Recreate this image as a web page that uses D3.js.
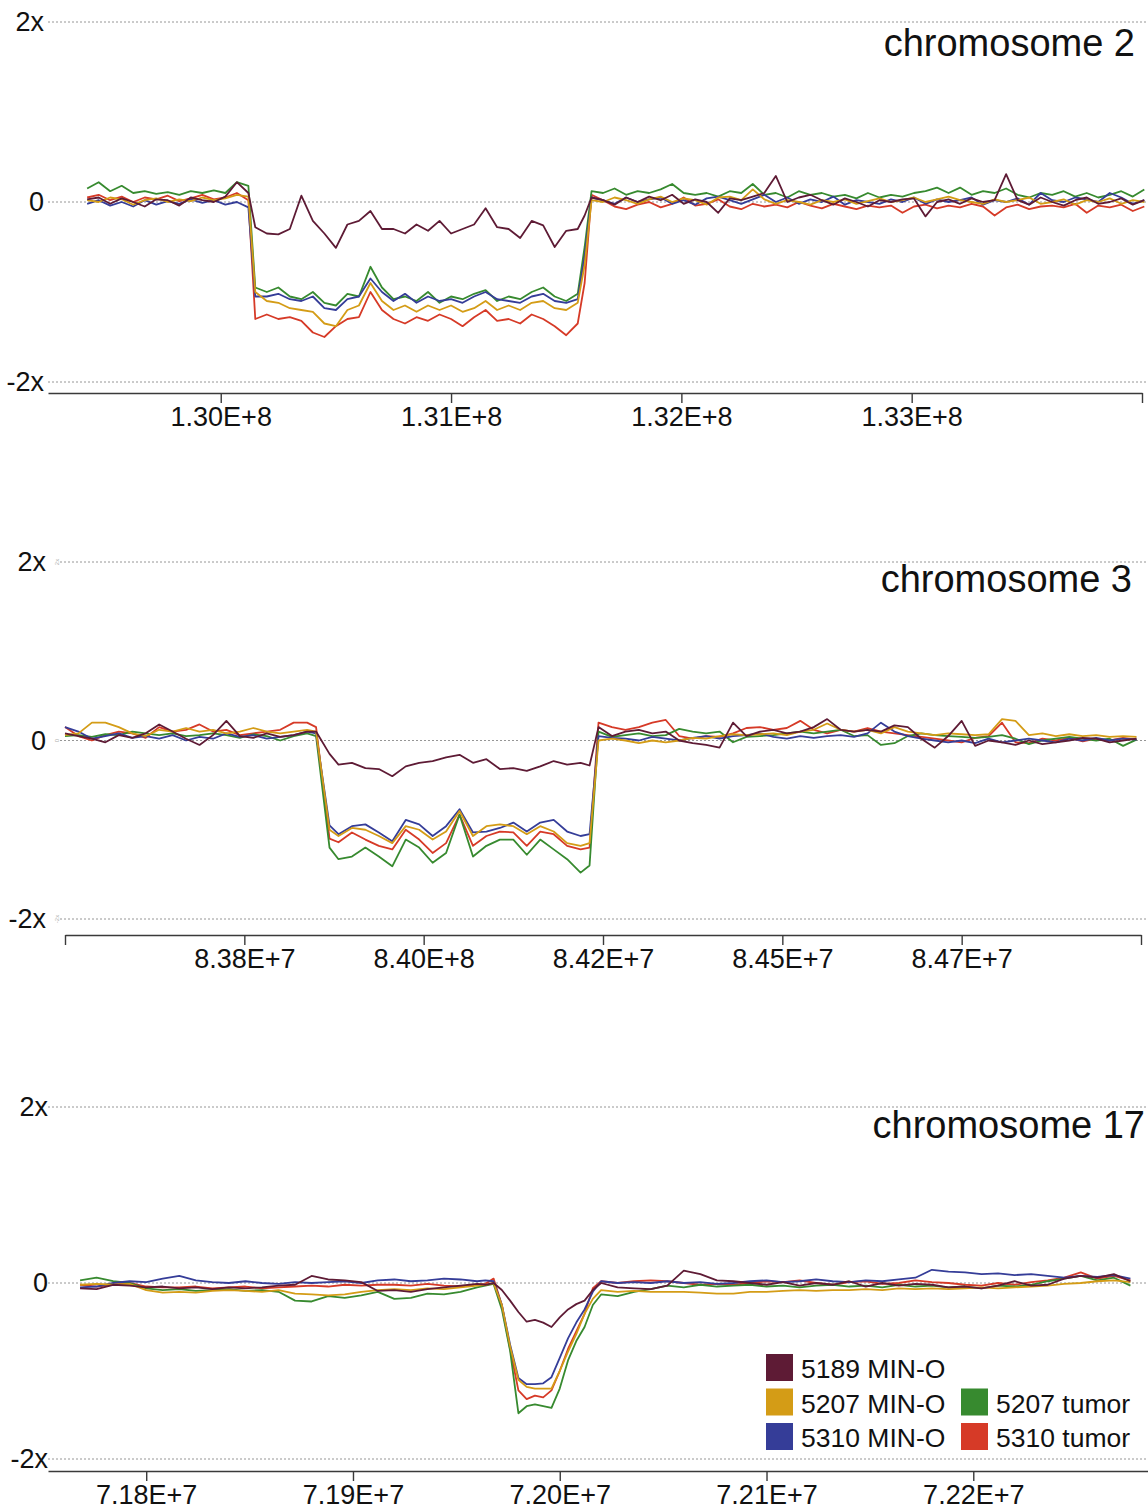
<!DOCTYPE html>
<html lang="en">
<head>
<meta charset="UTF-8">
<title>Copy number, chromosomes 2, 3 and 17</title>
<script src="https://d3js.org/d3.v7.min.js"></script>
<style>
    body {
        margin: 0;
        background: white;
    }
    svg {
        display: block;
        font-family: 'Liberation Sans', Arial, sans-serif;
    }
</style>
</head>
<body>
<svg width="1148" height="1509"></svg>
<script>
// samples
const sampleNames = ["5189 MIN-O", "5207 MIN-O", "5310 MIN-O", "5207 tumor", "5310 tumor"];
const sampleColors = ["#5e1b35", "#d49c16", "#353d98", "#378a2f", "#d63a27"];

// y axis (same for every panel)
const yTickValues = [2, 0, -2];
const yTickLabels = ["2x", "0", "-2x"];

// ---- chromosome 2 (positions in Mb) ----
const chr2Ticks = [130, 131, 132, 133, 134];
const chr2TickLabels = ["1.30E+8", "1.31E+8", "1.32E+8", "1.33E+8", ""];
const chr2Pos = [129.42, 129.47, 129.52, 129.57, 129.62, 129.67, 129.72, 129.77, 129.82, 129.87, 129.92, 129.97, 130.02, 130.07, 130.12,
    130.15,
    130.20, 130.25, 130.30, 130.35, 130.40, 130.45, 130.50, 130.55, 130.60, 130.65, 130.70, 130.75, 130.80, 130.85,
    130.90, 130.95, 131.00, 131.05, 131.10, 131.15, 131.20, 131.25, 131.30, 131.35, 131.40, 131.45, 131.50, 131.55,
    131.58, 131.61,
    131.66, 131.71, 131.76, 131.81, 131.86, 131.91, 131.96, 132.01, 132.06, 132.11, 132.16, 132.21, 132.26, 132.31, 132.36, 132.41,
    132.46, 132.51, 132.56, 132.61, 132.66, 132.71, 132.76, 132.81, 132.86, 132.91, 132.96, 133.01, 133.06, 133.11, 133.16, 133.21,
    133.26, 133.31, 133.36, 133.41, 133.46, 133.51, 133.56, 133.61, 133.66, 133.71, 133.76, 133.81, 133.86, 133.91, 133.96, 134.01];
const chr2_5189MinO = [0.03, 0.05, -0.02, 0.04, 0.00, -0.05, 0.03, 0.02, -0.04, 0.05, 0.02, 0.00, 0.06, 0.22, 0.10,
    -0.28,
    -0.35, -0.36, -0.30, 0.07, -0.21, -0.35, -0.51, -0.25, -0.21, -0.10, -0.30, -0.30, -0.35, -0.25,
    -0.32, -0.21, -0.35, -0.30, -0.25, -0.07, -0.28, -0.30, -0.40, -0.21, -0.26, -0.50, -0.32, -0.30,
    -0.15, 0.05,
    0.02, -0.03, 0.05, 0.00, 0.06, 0.02, 0.08, -0.02, 0.03, 0.00, -0.12, 0.04, 0.02, 0.06, 0.10, 0.29,
    0.00, 0.05, 0.08, 0.02, -0.03, 0.04, 0.00, -0.05, 0.02, 0.00, 0.03, 0.04, -0.16, 0.00, 0.03, -0.02,
    0.04, 0.00, 0.02, 0.31, 0.02, -0.03, 0.05, 0.00, -0.04, 0.02, 0.05, -0.02, 0.00, 0.04, -0.03, 0.02];
const chr2_5207MinO = [0.02, 0.00, 0.05, 0.03, -0.03, 0.02, 0.04, 0.00, 0.03, 0.01, 0.05, 0.02, 0.04, 0.08, 0.06,
    -1.00,
    -1.10, -1.12, -1.18, -1.20, -1.22, -1.35, -1.38, -1.20, -1.15, -0.90, -1.10, -1.20, -1.15, -1.22,
    -1.15, -1.20, -1.15, -1.22, -1.18, -1.10, -1.20, -1.15, -1.20, -1.12, -1.10, -1.18, -1.20, -1.12,
    -0.70, 0.02,
    0.00, 0.05, 0.02, -0.02, 0.03, 0.06, 0.00, 0.04, 0.02, -0.03, 0.05, 0.06, 0.02, 0.14, 0.03, -0.02,
    0.02, 0.00, -0.03, 0.02, 0.00, 0.03, -0.02, 0.01, 0.04, 0.00, 0.02, 0.05, 0.00, 0.03, 0.06, 0.02,
    0.00, -0.02, 0.03, 0.00, 0.02, 0.05, -0.02, 0.00, 0.03, -0.03, 0.02, 0.00, 0.04, -0.02, 0.02, 0.00];
const chr2_5310MinO = [-0.02, 0.02, -0.04, 0.00, -0.05, 0.02, -0.03, 0.01, -0.02, 0.03, -0.01, 0.02, -0.03, 0.00, -0.06,
    -1.05,
    -1.05, -1.02, -1.08, -1.10, -1.05, -1.18, -1.20, -1.08, -1.05, -0.85, -1.00, -1.10, -1.02, -1.12,
    -1.05, -1.10, -1.08, -1.12, -1.05, -1.00, -1.08, -1.10, -1.12, -1.05, -1.02, -1.10, -1.12, -1.08,
    -0.60, 0.05,
    0.02, -0.02, 0.05, 0.00, 0.03, 0.05, -0.02, 0.02, -0.03, 0.04, 0.06, 0.02, -0.02, 0.03, 0.08, 0.00,
    0.05, -0.02, 0.03, 0.00, 0.06, -0.03, 0.02, 0.00, -0.02, 0.03, 0.00, 0.05, -0.02, 0.03, 0.00, 0.02,
    0.05, -0.03, 0.02, 0.00, 0.04, -0.03, 0.10, 0.02, 0.00, 0.05, 0.03, 0.00, 0.10, 0.05, -0.02, 0.02];
const chr2_5207Tumor = [0.15, 0.22, 0.12, 0.18, 0.10, 0.12, 0.09, 0.11, 0.08, 0.12, 0.10, 0.13, 0.10, 0.22, 0.18,
    -0.95,
    -1.00, -0.95, -1.05, -1.08, -1.00, -1.12, -1.15, -1.02, -1.05, -0.72, -0.95, -1.08, -1.05, -1.10,
    -1.00, -1.12, -1.05, -1.08, -1.02, -0.98, -1.10, -1.05, -1.08, -1.00, -0.95, -1.05, -1.10, -1.02,
    -0.50, 0.12,
    0.10, 0.15, 0.08, 0.12, 0.10, 0.14, 0.20, 0.10, 0.08, 0.10, 0.06, 0.12, 0.10, 0.20, 0.08, 0.10,
    0.05, 0.12, 0.08, 0.10, 0.06, 0.08, 0.04, 0.10, 0.05, 0.08, 0.06, 0.10, 0.12, 0.16, 0.10, 0.16,
    0.08, 0.12, 0.10, 0.15, 0.08, 0.05, 0.10, 0.08, 0.12, 0.06, 0.10, 0.05, 0.08, 0.12, 0.06, 0.14];
const chr2_5310Tumor = [0.05, 0.08, 0.02, 0.06, 0.00, 0.05, 0.03, 0.07, 0.01, 0.04, 0.08, 0.03, 0.05, 0.10, 0.02,
    -1.30,
    -1.25, -1.30, -1.28, -1.32, -1.45, -1.50, -1.38, -1.30, -1.28, -1.00, -1.20, -1.30, -1.35, -1.28,
    -1.32, -1.25, -1.30, -1.38, -1.28, -1.20, -1.32, -1.30, -1.35, -1.25, -1.30, -1.38, -1.48, -1.35,
    -0.90, 0.08,
    0.02, -0.05, -0.08, -0.03, 0.00, -0.06, -0.02, 0.05, -0.04, -0.02, 0.03, -0.05, -0.08, -0.02, -0.05, -0.03,
    -0.06, 0.00, -0.04, -0.07, -0.02, -0.05, -0.08, -0.04, -0.06, -0.04, -0.12, -0.05, -0.03, -0.07, -0.04, -0.06,
    -0.02, -0.05, -0.15, -0.06, -0.03, -0.08, -0.05, -0.04, -0.06, -0.02, -0.12, -0.04, -0.06, -0.03, -0.10, -0.05];

// ---- chromosome 3 (positions in Mb) ----
const chr3Ticks = [83.6, 83.8, 84.0, 84.2, 84.4, 84.6, 84.8];
const chr3TickLabels = ["", "8.38E+7", "8.40E+8", "8.42E+7", "8.45E+7", "8.47E+7", ""];
const chr3Pos = [83.600, 83.615, 83.630, 83.645, 83.660, 83.675, 83.690, 83.705, 83.720, 83.735, 83.750, 83.765, 83.780, 83.795, 83.810, 83.825, 83.840, 83.855, 83.870,
    83.880, 83.895,
    83.905, 83.920, 83.935, 83.950, 83.965, 83.980, 83.995, 84.010, 84.025, 84.040, 84.055, 84.070, 84.085, 84.100, 84.115, 84.130, 84.145, 84.160, 84.175,
    84.185, 84.195,
    84.210, 84.225, 84.240, 84.255, 84.270, 84.285, 84.300, 84.315, 84.330, 84.345, 84.360, 84.375, 84.390, 84.405, 84.420, 84.435, 84.450, 84.465, 84.480, 84.495,
    84.510, 84.525, 84.540, 84.555, 84.570, 84.585, 84.600, 84.615, 84.630, 84.645, 84.660, 84.675, 84.690, 84.705, 84.720, 84.735, 84.750, 84.765, 84.780, 84.795];
const chr3_5189MinO = [0.08, 0.05, 0.02, -0.02, 0.06, 0.03, 0.08, 0.18, 0.10, 0.02, -0.05, 0.06, 0.22, 0.05, 0.03, 0.08, 0.04, 0.06, 0.10,
    0.10, -0.15,
    -0.27, -0.25, -0.31, -0.32, -0.40, -0.29, -0.25, -0.23, -0.19, -0.16, -0.25, -0.21, -0.32, -0.31, -0.34, -0.29, -0.23, -0.27, -0.25,
    -0.28, 0.15,
    0.05, 0.10, 0.12, 0.08, 0.10, 0.00, -0.03, -0.05, -0.08, 0.20, 0.05, 0.10, 0.12, 0.08, 0.10, 0.15, 0.24, 0.12, 0.10, 0.12,
    0.10, 0.17, 0.15, 0.02, -0.08, 0.05, 0.22, -0.06, 0.00, -0.02, -0.05, 0.00, -0.04, -0.02, 0.00, 0.03, 0.02, -0.02, 0.00, 0.02];
const chr3_5207MinO = [0.06, 0.08, 0.20, 0.20, 0.15, 0.08, 0.05, 0.12, 0.10, 0.14, 0.10, 0.12, 0.08, 0.10, 0.14, 0.10, 0.08, 0.10, 0.12,
    0.10, -1.00,
    -1.07, -0.98, -1.00, -1.07, -1.15, -0.96, -1.00, -1.11, -1.02, -0.79, -1.07, -0.96, -0.94, -0.96, -1.05, -0.96, -1.02, -1.15, -1.18,
    -1.15, 0.00,
    0.02, 0.00, -0.03, 0.00, -0.02, 0.00, 0.03, 0.02, 0.05, 0.07, 0.06, 0.07, 0.08, 0.06, 0.10, 0.12, 0.19, 0.12, 0.10, 0.12,
    0.08, 0.15, 0.10, 0.08, 0.06, 0.08, 0.07, 0.06, 0.07, 0.24, 0.22, 0.06, 0.08, 0.05, 0.07, 0.05, 0.06, 0.04, 0.05, 0.04];
const chr3_5310MinO = [0.15, 0.10, 0.02, 0.05, 0.08, 0.03, 0.05, 0.02, 0.06, 0.00, 0.04, 0.02, 0.08, 0.04, 0.06, 0.02, 0.04, 0.06, 0.10,
    0.08, -0.95,
    -1.05, -0.96, -0.94, -1.03, -1.13, -0.89, -0.94, -1.07, -0.96, -0.77, -1.03, -1.02, -0.98, -0.92, -1.02, -0.92, -0.89, -1.02, -1.07,
    -1.05, 0.05,
    0.03, 0.02, 0.00, 0.04, 0.02, 0.00, 0.03, 0.05, 0.02, 0.05, 0.06, 0.08, 0.04, 0.02, 0.05, 0.03, 0.05, 0.06, 0.04, 0.08,
    0.20, 0.10, 0.05, 0.02, 0.00, -0.02, 0.00, -0.03, 0.02, -0.02, 0.00, 0.02, 0.00, -0.02, 0.02, 0.00, 0.03, 0.00, 0.02, 0.01];
const chr3_5207Tumor = [0.05, 0.06, 0.04, 0.07, 0.06, 0.10, 0.08, 0.06, 0.08, 0.05, 0.06, 0.08, 0.06, 0.03, 0.07, 0.05, 0.00, 0.05, 0.08,
    0.05, -1.20,
    -1.33, -1.30, -1.20, -1.30, -1.41, -1.11, -1.20, -1.37, -1.26, -0.83, -1.30, -1.18, -1.11, -1.11, -1.28, -1.11, -1.22, -1.33, -1.48,
    -1.40, 0.10,
    0.04, 0.06, 0.08, 0.05, 0.06, 0.13, 0.10, 0.08, 0.10, -0.02, 0.04, 0.05, 0.06, 0.08, 0.10, 0.08, 0.10, 0.12, 0.05, 0.06,
    -0.05, -0.03, 0.05, 0.08, 0.06, 0.05, 0.04, 0.03, 0.04, 0.06, 0.02, -0.04, 0.00, 0.02, 0.04, 0.02, 0.00, 0.02, -0.06, 0.01];
const chr3_5310Tumor = [0.15, 0.05, 0.00, 0.06, 0.10, 0.08, 0.03, 0.15, 0.10, 0.12, 0.18, 0.10, 0.12, 0.06, 0.08, 0.10, 0.12, 0.20, 0.20,
    0.15, -1.10,
    -1.14, -1.03, -1.11, -1.18, -1.22, -1.00, -1.11, -1.26, -1.15, -0.83, -1.18, -1.07, -1.02, -1.03, -1.18, -1.02, -1.05, -1.18, -1.22,
    -1.20, 0.20,
    0.15, 0.12, 0.15, 0.20, 0.23, 0.05, 0.02, 0.05, 0.04, 0.08, 0.14, 0.15, 0.12, 0.14, 0.22, 0.12, 0.08, 0.12, 0.10, 0.14,
    0.10, 0.08, 0.06, 0.04, 0.02, 0.00, -0.02, 0.03, 0.05, 0.20, -0.02, -0.03, 0.02, 0.00, 0.03, -0.01, 0.02, 0.00, 0.03, 0.01];

// ---- chromosome 17 (positions in Mb) ----
const chr17Ticks = [71.8, 71.9, 72.0, 72.1, 72.2];
const chr17TickLabels = ["7.18E+7", "7.19E+7", "7.20E+7", "7.21E+7", "7.22E+7"];
const chr17Pos = [71.768, 71.776, 71.784, 71.792, 71.800, 71.808, 71.816, 71.824, 71.832, 71.840, 71.848, 71.856, 71.864,
    71.872, 71.880, 71.888, 71.896, 71.904, 71.912, 71.920, 71.928, 71.936, 71.944, 71.952, 71.960,
    71.964, 71.968, 71.972, 71.976, 71.980, 71.984, 71.988, 71.992, 71.996, 72.000, 72.004, 72.008, 72.012, 72.016, 72.020,
    72.028, 72.036, 72.044, 72.052, 72.060, 72.068, 72.076, 72.084, 72.092, 72.100, 72.108, 72.116, 72.124, 72.132, 72.140, 72.148,
    72.156, 72.164, 72.172, 72.180, 72.188, 72.196, 72.204, 72.212, 72.220, 72.228, 72.236, 72.244, 72.252, 72.260, 72.268, 72.276];
const chr17_5189MinO = [-0.06, -0.07, -0.02, -0.03, -0.05, -0.04, -0.06, -0.05, -0.07, -0.05, -0.06, -0.05, -0.03,
    -0.02, 0.08, 0.04, 0.03, 0.01, -0.09, -0.08, -0.10, -0.07, -0.05, -0.03, -0.01,
    -0.02, 0.00, -0.08, -0.20, -0.33, -0.44, -0.42, -0.45, -0.50, -0.39, -0.30, -0.24, -0.20, -0.08, 0.00,
    -0.05, -0.06, -0.07, -0.03, 0.14, 0.10, 0.03, 0.02, 0.00, -0.02, 0.01, -0.03, 0.00, -0.02, 0.02, -0.04,
    0.00, -0.03, -0.01, -0.02, -0.05, -0.04, -0.06, -0.03, 0.02, -0.03, -0.02, 0.05, 0.08, 0.06, 0.10, 0.02];
const chr17_5207MinO = [-0.02, -0.01, -0.02, -0.01, -0.08, -0.11, -0.10, -0.11, -0.09, -0.08, -0.09, -0.10, -0.08,
    -0.12, -0.13, -0.14, -0.13, -0.10, -0.08, -0.07, -0.08, -0.06, -0.07, -0.05, -0.03,
    -0.02, 0.00, -0.25, -0.72, -1.10, -1.18, -1.20, -1.20, -1.20, -1.00, -0.78, -0.58, -0.35, -0.18, -0.08,
    -0.10, -0.09, -0.10, -0.10, -0.10, -0.11, -0.12, -0.12, -0.10, -0.10, -0.09, -0.08, -0.09, -0.08, -0.08, -0.07,
    -0.08, -0.06, -0.07, -0.06, -0.07, -0.06, -0.05, -0.06, -0.05, -0.04, -0.03, -0.01, 0.00, 0.02, 0.03, 0.01];
const chr17_5310MinO = [-0.05, -0.04, 0.00, 0.02, 0.01, 0.05, 0.08, 0.03, 0.01, 0.00, 0.02, 0.00, -0.01,
    0.01, 0.00, 0.01, 0.02, 0.00, 0.03, 0.04, 0.02, 0.03, 0.05, 0.04, 0.02,
    0.03, 0.02, -0.25, -0.70, -1.08, -1.15, -1.15, -1.14, -1.07, -0.85, -0.63, -0.45, -0.30, -0.10, 0.02,
    0.00, 0.01, 0.00, 0.02, 0.00, 0.01, -0.01, 0.00, 0.02, 0.03, 0.01, 0.02, 0.04, 0.02, 0.01, 0.03,
    0.02, 0.04, 0.06, 0.15, 0.13, 0.12, 0.10, 0.11, 0.09, 0.10, 0.08, 0.06, 0.08, 0.07, 0.09, 0.05];
const chr17_5207Tumor = [0.03, 0.06, 0.02, 0.00, -0.06, -0.08, -0.07, -0.09, -0.08, -0.07, -0.09, -0.08, -0.10,
    -0.20, -0.21, -0.15, -0.17, -0.14, -0.10, -0.18, -0.17, -0.12, -0.13, -0.10, -0.05,
    -0.03, -0.01, -0.30, -0.77, -1.48, -1.40, -1.38, -1.40, -1.42, -1.20, -0.88, -0.66, -0.50, -0.25, -0.13,
    -0.15, -0.10, -0.07, -0.03, -0.05, -0.02, -0.04, -0.03, -0.02, -0.04, -0.03, -0.05, -0.03, -0.02, -0.04, -0.03,
    -0.05, -0.02, -0.04, -0.03, -0.05, -0.04, -0.06, -0.03, -0.04, -0.02, 0.02, 0.05, 0.08, 0.03, 0.06, -0.03];
const chr17_5310Tumor = [-0.02, -0.04, -0.02, 0.00, -0.04, -0.05, -0.05, -0.04, -0.06, -0.05, -0.04, -0.06, -0.05,
    -0.04, -0.03, -0.04, -0.02, -0.03, -0.02, -0.02, -0.03, -0.01, -0.03, -0.04, -0.02,
    -0.01, 0.05, -0.25, -0.75, -1.22, -1.32, -1.28, -1.30, -1.22, -1.00, -0.75, -0.55, -0.35, -0.06, 0.02,
    0.00, 0.02, 0.03, 0.02, 0.00, -0.02, -0.01, -0.02, 0.00, 0.02, 0.01, 0.03, 0.00, -0.02, 0.01, 0.02,
    -0.01, 0.00, 0.03, 0.01, 0.00, -0.02, -0.03, 0.00, -0.02, 0.01, 0.03, 0.06, 0.12, 0.05, 0.08, 0.03];

// legend layout: column / row of each sample
const legendCol = [0, 0, 0, 1, 1];
const legendRow = [0, 1, 2, 1, 2];

const svg = d3.select("svg");

const panels = [
    {
        title: "chromosome 2", pos: chr2Pos,
        series: [chr2_5189MinO, chr2_5207MinO, chr2_5310MinO, chr2_5207Tumor, chr2_5310Tumor],
        ticks: chr2Ticks, tickLabels: chr2TickLabels,
        domain: [129.25, 134.0], xRange: [48, 1142], yRange: [382, 22],
        axisY: 393, gridX: 48, labelX: 44, titleX: 1135, titleY: 56
    },
    {
        title: "chromosome 3", pos: chr3Pos,
        series: [chr3_5189MinO, chr3_5207MinO, chr3_5310MinO, chr3_5207Tumor, chr3_5310Tumor],
        ticks: chr3Ticks, tickLabels: chr3TickLabels,
        domain: [83.6, 84.8], xRange: [65, 1141], yRange: [919, 562],
        axisY: 935, gridX: 60, labelX: 46, titleX: 1132, titleY: 592, ghost: true
    },
    {
        title: "chromosome 17", pos: chr17Pos,
        series: [chr17_5189MinO, chr17_5207MinO, chr17_5310MinO, chr17_5207Tumor, chr17_5310Tumor],
        ticks: chr17Ticks, tickLabels: chr17TickLabels,
        domain: [71.7525, 72.2845], xRange: [48, 1148], yRange: [1459, 1107],
        axisY: 1471, gridX: 48, labelX: 48, titleX: 1145, titleY: 1138
    }
];

// red, green, blue, yellow, maroon on top
const drawOrder = [4, 3, 2, 1, 0];

panels.forEach(p => {
    const x = d3.scaleLinear().domain(p.domain).range(p.xRange);
    const y = d3.scaleLinear().domain([-2, 2]).range(p.yRange);
    const g = svg.append("g");

    // dotted reference lines
    g.selectAll(".grid")
        .data(yTickValues)
        .join("line")
        .attr("x1", p.gridX)
        .attr("x2", 1148)
        .attr("y1", d => y(d))
        .attr("y2", d => y(d))
        .attr("stroke", "#8a8a8a")
        .attr("stroke-width", 0.9)
        .attr("stroke-dasharray", "2,2");

    g.selectAll(".ylab")
        .data(yTickValues)
        .join("text")
        .attr("x", p.labelX)
        .attr("y", d => y(d))
        .attr("dy", "0.35em")
        .attr("text-anchor", "end")
        .attr("font-size", 27)
        .attr("fill", "#111")
        .text((d, i) => yTickLabels[i]);

    if (p.ghost) {
        g.selectAll(".ghost")
            .data(yTickValues)
            .join("text")
            .attr("transform", d => `translate(57,${y(d)}) rotate(-90)`)
            .attr("text-anchor", "middle")
            .attr("dy", "0.35em")
            .attr("font-size", 6)
            .attr("fill", "#b0b0b0")
            .text((d, i) => yTickLabels[i]);
    }

    const line = d3.line()
        .x((d, i) => x(p.pos[i]))
        .y(d => y(d));

    drawOrder.forEach(k => {
        g.append("path")
            .datum(p.series[k])
            .attr("fill", "none")
            .attr("stroke", sampleColors[k])
            .attr("stroke-width", 1.8)
            .attr("stroke-linejoin", "round")
            .attr("d", line);
    });

    const axis = g.append("g")
        .attr("transform", `translate(0,${p.axisY})`)
        .call(d3.axisBottom(x)
            .tickValues(p.ticks)
            .tickFormat((d, i) => p.tickLabels[i])
            .tickSize(10)
            .tickSizeOuter(0)
            .tickPadding(4));
    axis.select(".domain").attr("stroke", "#3a3a3a").attr("stroke-width", 1.4);
    axis.selectAll(".tick line").attr("stroke", "#3a3a3a").attr("stroke-width", 1.4);
    axis.selectAll(".tick text")
        .attr("fill", "#111")
        .style("font-family", "'Liberation Sans', Arial, sans-serif")
        .style("font-size", "27px");

    g.append("text")
        .attr("x", p.titleX)
        .attr("y", p.titleY)
        .attr("text-anchor", "end")
        .attr("font-size", 38)
        .attr("fill", "#111")
        .text(p.title);
});

// legend
const legend = svg.append("g");
sampleNames.forEach((name, i) => {
    const lx = 766 + legendCol[i] * 195;
    const ly = 1354 + legendRow[i] * 34.5;
    legend.append("rect")
        .attr("x", lx)
        .attr("y", ly)
        .attr("width", 27)
        .attr("height", 27)
        .attr("fill", sampleColors[i]);
    legend.append("text")
        .attr("x", lx + 35)
        .attr("y", ly + 24)
        .attr("font-size", 26.5)
        .attr("fill", "#111")
        .text(name);
});
</script>
</body>
</html>
